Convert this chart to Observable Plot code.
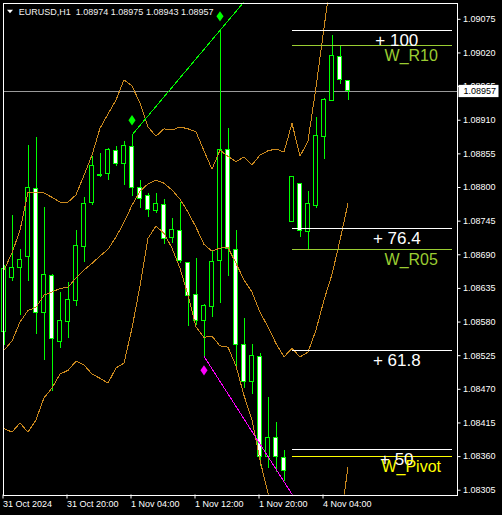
<!DOCTYPE html>
<html><head><meta charset="utf-8">
<script src="https://cdn.jsdelivr.net/npm/d3@7"></script>
<script src="https://cdn.jsdelivr.net/npm/@observablehq/plot@0.6"></script>
<style>html,body{margin:0;padding:0;background:#000;overflow:hidden}</style>
</head><body><div id="chart"></div>
<script>
const symbolName = "EURUSD,H1";
const opens  = [1.08563,1.08652,1.08669,1.08687,1.08797,1.08594,1.08655,1.08548,1.08580,1.08615,1.08703,1.08774,1.08818,1.08822,1.08860,1.08839,1.08866,1.08800,1.08786,1.08762,1.08772,1.08717,1.08729,1.08676,1.08625,1.08582,1.08604,1.08680,1.08861,1.08698,1.08543,1.08482,1.08523,1.08359,1.08391,1.08358,1.08744,1.08805,1.08727,1.08770,1.08883,1.08942,1.09013,1.08974];
const highs  = [1.08673,1.08755,1.08699,1.08868,1.08881,1.08768,1.08658,1.08629,1.08644,1.08730,1.08783,1.08850,1.08855,1.08864,1.08867,1.08875,1.08886,1.08812,1.08791,1.08790,1.08781,1.08750,1.08775,1.08678,1.08684,1.08609,1.08695,1.09057,1.08897,1.08730,1.08586,1.08544,1.08528,1.08456,1.08416,1.08370,1.08818,1.08806,1.08793,1.08914,1.08945,1.09049,1.09030,1.08975];
const lows   = [1.08542,1.08647,1.08590,1.08647,1.08560,1.08517,1.08467,1.08537,1.08553,1.08605,1.08678,1.08771,1.08816,1.08812,1.08834,1.08804,1.08785,1.08766,1.08751,1.08758,1.08707,1.08709,1.08676,1.08572,1.08575,1.08524,1.08588,1.08611,1.08654,1.08504,1.08471,1.08462,1.08343,1.08341,1.08334,1.08319,1.08743,1.08718,1.08698,1.08766,1.08846,1.08942,1.08968,1.08943];
const closes = [1.08667,1.08669,1.08681,1.08799,1.08594,1.08657,1.08552,1.08581,1.08616,1.08704,1.08773,1.08835,1.08821,1.08861,1.08839,1.08868,1.08799,1.08782,1.08764,1.08773,1.08715,1.08730,1.08680,1.08622,1.08582,1.08606,1.08678,1.08861,1.08700,1.08543,1.08482,1.08524,1.08359,1.08391,1.08359,1.08336,1.08817,1.08729,1.08773,1.08884,1.08943,1.09015,1.08975,1.08957];

const bandUpper = [1.08665,1.08693,1.08730,1.08792,1.08792,1.08791,1.08784,1.08776,1.08776,1.08788,1.08820,1.08853,1.08897,1.08920,1.08943,1.08976,1.08966,1.08938,1.08899,1.08884,1.08896,1.08894,1.08899,1.08896,1.08891,1.08860,1.08830,1.08861,1.08851,1.08842,1.08850,1.08837,1.08853,1.08860,1.08863,1.08858,1.08905,1.08851,1.08876,1.08964,1.09061,1.09156];
const bandMiddle = [1.08534,1.08549,1.08580,1.08599,1.08604,1.08624,1.08629,1.08635,1.08637,1.08652,1.08665,1.08676,1.08688,1.08699,1.08719,1.08743,1.08771,1.08794,1.08806,1.08812,1.08807,1.08796,1.08781,1.08760,1.08735,1.08707,1.08696,1.08701,1.08702,1.08676,1.08649,1.08629,1.08596,1.08572,1.08545,1.08523,1.08537,1.08523,1.08531,1.08567,1.08616,1.08658,1.08714,1.08774];
const bandLower = [1.08406,1.08400,1.08415,1.08400,1.08420,1.08456,1.08472,1.08495,1.08501,1.08516,1.08510,1.08495,1.08488,1.08480,1.08505,1.08513,1.08570,1.08639,1.08717,1.08737,1.08725,1.08701,1.08668,1.08624,1.08572,1.08555,1.08557,1.08541,1.08539,1.08508,1.08460,1.08420,1.08354,1.08300,1.08248,null,null,null,null,null,null,null,1.08247,1.08343];

const trendUpBars = [16, 27, 31];
const trendUpPrices = [1.08886, 1.09057, 1.09119];
const trendDownBars = [25, 37];
const trendDownPrices = [1.08524, 1.08278];

const arrowUpBars = [16, 27];
const arrowUpPrices = [1.08910, 1.09080];
const arrowDownBars = [25];
const arrowDownPrices = [1.08501];

const levelNames  = ["+ 100","W_R10","+ 76.4","W_R05","+ 61.8","+ 50","W_Pivot"];
const levelPrices = [1.09057,1.09033,1.08733,1.08698,1.08534,1.08372,1.08360];
const levelKinds  = ["fibo","r","fibo","r","fibo","fibo","pivot"];
const levelStartBar = 36, levelEndBar = 56;

const xTickBars = [0, 8, 16, 24, 32, 40];
const xTickLabels = ["31 Oct 2024","31 Oct 20:00","1 Nov 04:00","1 Nov 12:00","1 Nov 20:00","4 Nov 04:00"];
const yTicks = [1.09075,1.09020,1.08965,1.08910,1.08855,1.08800,1.08745,1.08690,1.08635,1.08580,1.08525,1.08470,1.08415,1.08360,1.08305];

// ---- build tables
const candles = opens.map((o, i) => ({i, open: o, high: highs[i], low: lows[i], close: closes[i]}));
const series = arr => arr.map((v, i) => ({i, v: v == null ? NaN : v}));
const trendUp = trendUpBars.map((b, k) => ({bar: b, price: trendUpPrices[k]}));
const trendDown = trendDownBars.map((b, k) => ({bar: b, price: trendDownPrices[k]}));
const arrowsUp = arrowUpBars.map((b, k) => ({bar: b, price: arrowUpPrices[k]}));
const arrowsDown = arrowDownBars.map((b, k) => ({bar: b, price: arrowDownPrices[k]}));
const levels = levelNames.map((n, k) => ({name: n, price: levelPrices[k], kind: levelKinds[k]}));
const levelColor = d => d.kind === "fibo" ? "#ffffff" : d.kind === "pivot" ? "#ffff00" : "#9acd32";
const last = candles[candles.length - 1];
const bid = last.close;
const f5 = d3.format(".5f");
const title = `${symbolName}  ${f5(last.open)} ${f5(last.high)} ${f5(last.low)} ${f5(last.close)}`;

const diamond = {draw(ctx, size) { const w = Math.sqrt(size) * 0.5, h = w * 1.45; ctx.moveTo(0, -h); ctx.lineTo(w, 0); ctx.lineTo(0, h); ctx.lineTo(-w, 0); ctx.closePath(); }};
const triDown = {draw(ctx) { ctx.moveTo(-3, -1.8); ctx.lineTo(3, -1.8); ctx.lineTo(0, 1.8); ctx.closePath(); }};

const BAND = "#cc8a1e", LIME = "#00ff00";

const chart = Plot.plot({
  width: 502, height: 515,
  marginLeft: 2.5, marginRight: 45.5, marginTop: 2.5, marginBottom: 20.5,
  style: {background: "#000", color: "#fff", fontFamily: "'Liberation Sans', Arial, sans-serif", fontSize: "9px"},
  x: {type: "linear", domain: [-0.125, 56.625]},
  y: {type: "linear", domain: [1.082972, 1.091017]},
  marks: [
    Plot.ruleY([bid], {y: d => d, stroke: "#9a9a9a", shapeRendering: "crispEdges"}),
    Plot.ruleX(candles, {x: "i", y1: "low", y2: "high", stroke: LIME, shapeRendering: "crispEdges"}),
    Plot.rect(candles, {x1: d => d.i - 0.25, x2: d => d.i + 0.25, y1: "open", y2: "close",
      fill: d => d.close < d.open ? "#ffffff" : "#000000", stroke: LIME, shapeRendering: "crispEdges"}),
    Plot.line(series(bandUpper), {x: "i", y: "v", stroke: BAND, strokeWidth: 1, clip: true, shapeRendering: "crispEdges"}),
    Plot.line(series(bandMiddle), {x: "i", y: "v", stroke: BAND, strokeWidth: 1, clip: true, shapeRendering: "crispEdges"}),
    Plot.line(series(bandLower), {x: "i", y: "v", stroke: BAND, strokeWidth: 1, clip: true, shapeRendering: "crispEdges"}),
    Plot.line(trendUp, {x: "bar", y: "price", stroke: LIME, strokeWidth: 1, clip: true, shapeRendering: "crispEdges"}),
    Plot.line(trendDown, {x: "bar", y: "price", stroke: "#ff00ff", strokeWidth: 1, clip: true, shapeRendering: "crispEdges"}),
    Plot.ruleY(levels, {y: "price", x1: () => levelStartBar, x2: () => levelEndBar, stroke: levelColor, shapeRendering: "crispEdges"}),
    Plot.text(levels.filter(d => d.kind === "fibo"), {x: () => 49.1, y: "price", text: "name", fill: levelColor,
      fontSize: 17, textAnchor: "middle", lineAnchor: "bottom", dy: 16}),
    Plot.text(levels.filter(d => d.kind !== "fibo"), {x: () => 50.9, y: "price", text: "name", fill: levelColor,
      fontSize: 16, textAnchor: "middle", lineAnchor: "bottom", dy: 15.5}),
    Plot.dot(arrowsUp, {x: "bar", y: "price", r: 4, symbol: diamond, fill: LIME, stroke: "none"}),
    Plot.dot(arrowsDown, {x: "bar", y: "price", r: 4, symbol: diamond, fill: "#ff00ff", stroke: "none"}),
    Plot.frame({stroke: "#fff", shapeRendering: "crispEdges"}),
    Plot.axisY(yTicks, {anchor: "right", tickFormat: f5, tickSize: 3, tickPadding: 3, fontSize: 9}),
    Plot.axisX(xTickBars, {anchor: "bottom", tickFormat: d => xTickLabels[xTickBars.indexOf(d)], tickSize: 4, tickPadding: 1.5, textAnchor: "start", dx: -1, fontSize: 9}),
    Plot.rect([bid], {x1: () => 56.875, x2: () => 61.875, y1: d => d - 0.0001, y2: d => d + 0.0001, fill: "#fff"}),
    Plot.text([bid], {x: () => 57.44, y: d => d, text: d => f5(d), fill: "#000", textAnchor: "start", fontSize: 9}),
    Plot.dot([0], {frameAnchor: "top-left", dx: 7, dy: 8.5, symbol: triDown, r: 3, fill: "#fff", stroke: "none"}),
    Plot.text([title], {frameAnchor: "top-left", dx: 15.8, dy: 6.1, fill: "#f2f2f2", fontSize: 9, textAnchor: "start", lineAnchor: "top"})
  ]
});
document.getElementById("chart").appendChild(chart);
</script>
</body></html>
